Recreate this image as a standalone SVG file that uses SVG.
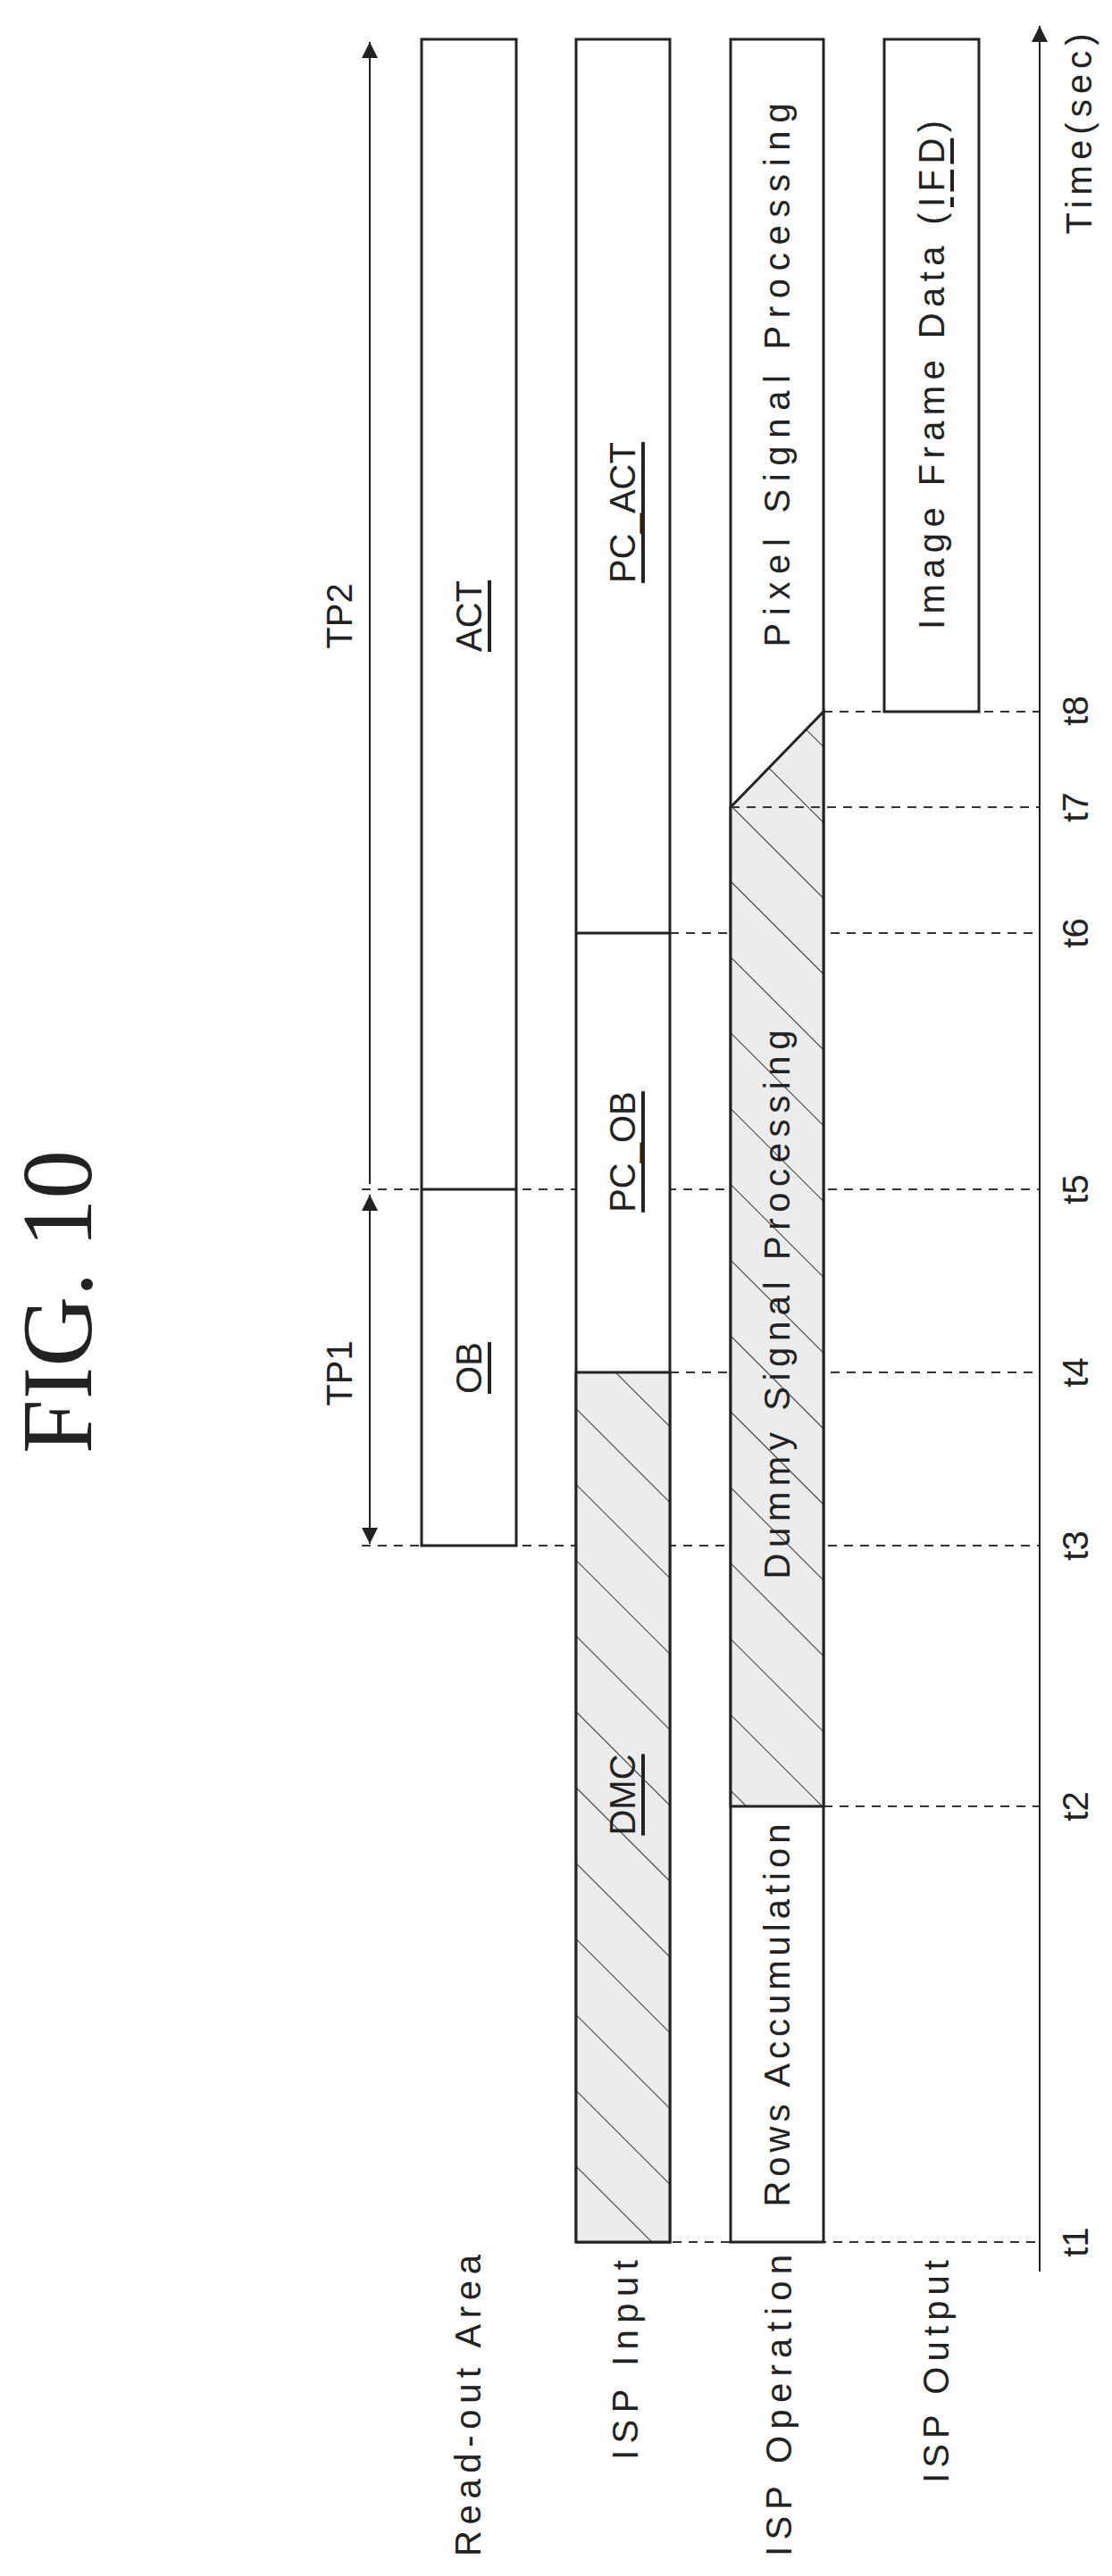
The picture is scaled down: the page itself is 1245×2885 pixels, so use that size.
<svg xmlns="http://www.w3.org/2000/svg" width="1245" height="2885" viewBox="0 0 1245 2885">
<style>
.t{font-family:"Liberation Sans",Arial,sans-serif;font-size:40px;fill:#222;text-anchor:middle;dominant-baseline:central}
.u{text-decoration:underline}
.box{fill:#fff;stroke:#222;stroke-width:3}
.ln{stroke:#222;stroke-width:3;fill:none}
.d{stroke:#333;stroke-width:2;stroke-dasharray:10,8;fill:none}
.ax{stroke:#222;stroke-width:2;fill:none}
</style>
<defs>
<pattern id="h" patternUnits="userSpaceOnUse" width="60" height="60" patternTransform="rotate(-45)">
<rect width="60" height="60" fill="#ececec"/>
<line x1="0" y1="0" x2="0" y2="60" stroke="#333" stroke-width="2"/>
</pattern>
<marker id="A" viewBox="0 0 10 10" refX="10" refY="5" markerWidth="22" markerHeight="18" orient="auto-start-reverse" markerUnits="userSpaceOnUse">
<path d="M0,0 L10,5 L0,10 z" fill="#222"/>
</marker>
</defs>
<rect width="1245" height="2885" fill="#fff"/>
<text x="64" y="1458" font-family="Liberation Serif,serif" font-size="112" fill="#222" text-anchor="middle" dominant-baseline="central" transform="rotate(-90 64 1458)" textLength="340" lengthAdjust="spacingAndGlyphs">FIG. 10</text>
<g id="connectors">
<line class="d" x1="645" y1="2511" x2="1164" y2="2511"/>
<line class="d" x1="922" y1="2023" x2="1164" y2="2023"/>
<line class="d" x1="405" y1="1731" x2="1164" y2="1731"/>
<line class="d" x1="750" y1="1537" x2="1164" y2="1537"/>
<line class="d" x1="405" y1="1332" x2="1164" y2="1332"/>
<line class="d" x1="750" y1="1045" x2="1164" y2="1045"/>
<line class="d" x1="922" y1="797" x2="1164" y2="797"/>
<line class="ax" x1="414" y1="1326" x2="414" y2="47" marker-end="url(#A)"/>
<line class="ax" x1="414" y1="1338" x2="414" y2="1729" marker-start="url(#A)" marker-end="url(#A)"/>
<line class="ax" x1="1164" y1="2544" x2="1164" y2="29" marker-end="url(#A)"/>
</g>
<g id="readout">
<rect class="box" x="472" y="44" width="106" height="1687"/>
<line class="ln" x1="472" y1="1332" x2="578" y2="1332"/>
<text class="t u" x="525" y="690" transform="rotate(-90 525 690)">ACT</text>
<text class="t u" x="525" y="1532" transform="rotate(-90 525 1532)">OB</text>
</g>
<g id="ispinput">
<rect class="box" x="645" y="44" width="105" height="2467"/>
<rect x="645" y="1537" width="105" height="974" fill="url(#h)" stroke="#222" stroke-width="3"/>
<line class="ln" x1="645" y1="1045" x2="750" y2="1045"/>
<text class="t u" x="697" y="574" transform="rotate(-90 697 574)">PC_ACT</text>
<text class="t u" x="697" y="1290" transform="rotate(-90 697 1290)">PC_OB</text>
<text class="t u" x="697" y="2010" transform="rotate(-90 697 2010)">DMC</text>
</g>
<g id="ispop">
<rect class="box" x="818" y="44" width="104" height="2467"/>
<polygon points="818,2023 922,2023 922,797 818,904" fill="url(#h)" stroke="#222" stroke-width="3"/>
<line class="d" x1="818" y1="904" x2="1164" y2="904"/>
<text class="t" x="870" y="420" transform="rotate(-90 870 420)" textLength="609" lengthAdjust="spacing">Pixel Signal Processing</text>
<text class="t" x="870" y="1461" transform="rotate(-90 870 1461)" textLength="615" lengthAdjust="spacing">Dummy Signal Processing</text>
<text class="t" x="870" y="2257" transform="rotate(-90 870 2257)" textLength="429" lengthAdjust="spacing">Rows Accumulation</text>
</g>
<g id="ispout">
<rect class="box" x="990" y="44" width="106" height="753"/>
<text class="t" x="1043" y="420" transform="rotate(-90 1043 420)" textLength="570" lengthAdjust="spacing">Image Frame Data (<tspan class="u">IFD</tspan>)</text>
</g>
<g id="labels">
<text class="t" x="380" y="690" transform="rotate(-90 380 690)">TP2</text>
<text class="t" x="380" y="1538" transform="rotate(-90 380 1538)">TP1</text>
<text class="t" x="1208" y="150" transform="rotate(-90 1208 150)" textLength="225" lengthAdjust="spacing">Time(sec)</text>
<text class="t" x="1204" y="796" transform="rotate(-90 1204 796)">t8</text>
<text class="t" x="1204" y="904" transform="rotate(-90 1204 904)">t7</text>
<text class="t" x="1204" y="1045" transform="rotate(-90 1204 1045)">t6</text>
<text class="t" x="1204" y="1332" transform="rotate(-90 1204 1332)">t5</text>
<text class="t" x="1204" y="1537" transform="rotate(-90 1204 1537)">t4</text>
<text class="t" x="1204" y="1731" transform="rotate(-90 1204 1731)">t3</text>
<text class="t" x="1204" y="2023" transform="rotate(-90 1204 2023)">t2</text>
<text class="t" x="1204" y="2511" transform="rotate(-90 1204 2511)">t1</text>
<text class="t" x="524" y="2694" transform="rotate(-90 524 2694)" textLength="338" lengthAdjust="spacing">Read-out Area</text>
<text class="t" x="700" y="2643" transform="rotate(-90 700 2643)" textLength="224" lengthAdjust="spacing">ISP Input</text>
<text class="t" x="872" y="2694" transform="rotate(-90 872 2694)" textLength="338" lengthAdjust="spacing">ISP Operation</text>
<text class="t" x="1048" y="2656" transform="rotate(-90 1048 2656)" textLength="250" lengthAdjust="spacing">ISP Output</text>
</g>
</svg>
